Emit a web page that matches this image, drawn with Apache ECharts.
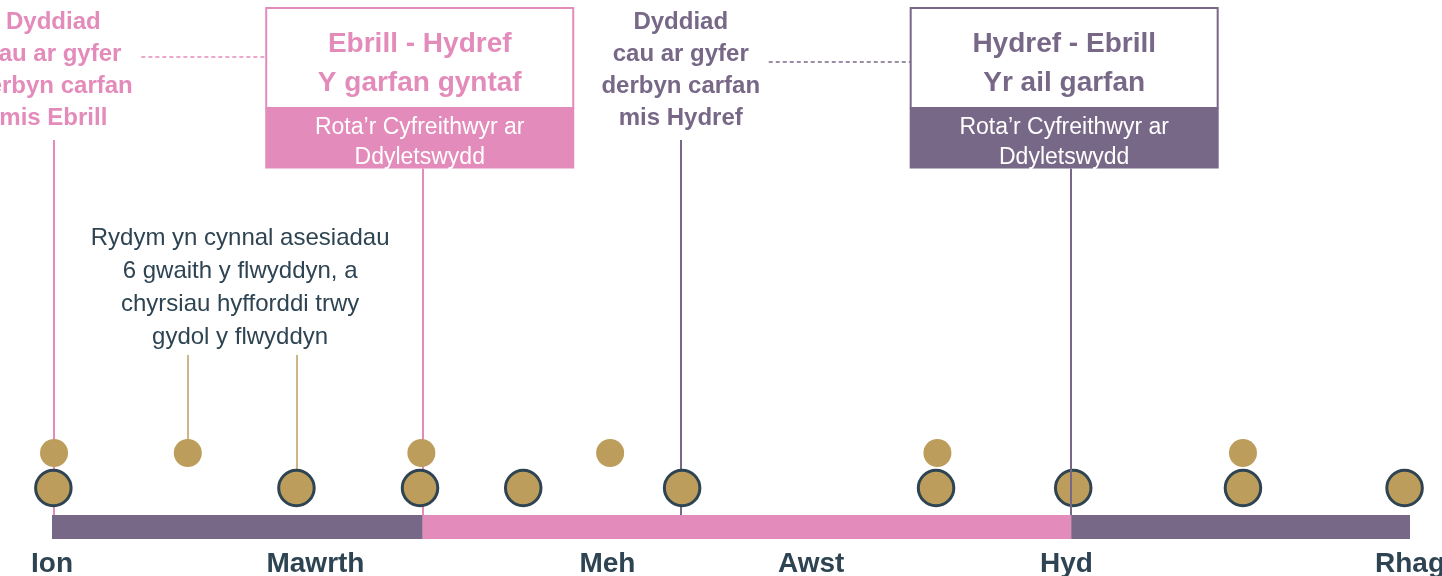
<!DOCTYPE html>
<html lang="cy">
<head>
<meta charset="UTF-8">
<title>Llinell amser carfanau</title>
<style>
  * { margin: 0; padding: 0; }
  #chart { width: 1442px; height: 576px; background: #fff; }
</style>
</head>
<body>
<div id="chart"></div>
<script src="https://cdn.jsdelivr.net/npm/echarts@6/dist/echarts.min.js"></script>
<script>
// echel amser: 0 = dechrau Ion, 100 = diwedd y flwyddyn
var monthLabels = ['Ion', 'Mawrth', 'Meh', 'Awst', 'Hyd', 'Rhag'];
var monthTicks = [0, 19.4, 40.9, 55.9, 74.7, 100];

// asesiadau (cylchoedd mawr) a chyrsiau hyfforddi (cylchoedd bach)
var assessmentDates = [0.1, 18, 27.1, 34.7, 46.4, 65.1, 75.2, 87.7, 99.6];
var courseDates = [0.15, 10, 27.2, 41.1, 65.2, 87.7];

// dyddiadau cau a dechrau'r ddwy garfan
var deadlineDates = [0.1, 46.3];
var cohortStarts = [27.3, 75.05];
var cohortTitles = ['Ebrill - Hydref\nY garfan gyntaf', 'Hydref - Ebrill\nYr ail garfan'];
var deadlineTexts = [
    'Dyddiad\ncau ar gyfer\nderbyn carfan\nmis Ebrill',
    'Dyddiad\ncau ar gyfer\nderbyn carfan\nmis Hydref'
];
var rotaText = 'Rota\u2019r Cyfreithwyr ar\nDdyletswydd';
var noteText = 'Rydym yn cynnal asesiadau\n6 gwaith y flwyddyn, a\nchyrsiau hyfforddi trwy\ngydol y flwyddyn';
var noteLinks = [10, 18];

var PINK = '#e38bba', PURPLE = '#776887', GOLD = '#bd9d5c', DARK = '#2e4452';
var FONT = '"Liberation Sans", Arial, sans-serif';
var cohortColors = [PINK, PURPLE];

// rhesi'r cynllun (yr echel y = rhes picsel)
var ROW_BAR = 527, ROW_BIG = 488, ROW_SMALL = 453;
var TEXT_BOTTOM = 140, LINK_TOP = 355, NOTE_MID = 288, DEADLINE_MID = 70;
var BOX_TOP = 8, BOX_MID = 108, BOX_BOTTOM = 168.5, BOX_W = 307;
var BOX_SHIFT = [-3, -7], LINK_ROWS = [57, 62];

var chart = echarts.init(document.getElementById('chart'));

var series = [];

// y bar rota
var edges = [0].concat(cohortStarts, [100]);
var segColors = [PURPLE, PINK, PURPLE];
for (var i = 0; i < segColors.length; i++) {
    series.push({
        type: 'line',
        silent: true,
        symbol: 'none',
        data: [[edges[i], ROW_BAR], [edges[i + 1], ROW_BAR]],
        lineStyle: { width: 24, color: segColors[i], cap: 'butt' },
        z: 1
    });
}

// llinellau fertigol
series.push({
    type: 'lines',
    coordinateSystem: 'cartesian2d',
    silent: true,
    z: 2,
    data: deadlineDates.map(function (d, i) {
        return { coords: [[d, TEXT_BOTTOM], [d, ROW_BAR - 12]], lineStyle: { color: cohortColors[i] } };
    }).concat([{ coords: [[cohortStarts[0], BOX_BOTTOM], [cohortStarts[0], ROW_BAR - 12]], lineStyle: { color: PINK } }])
      .concat(noteLinks.map(function (d) {
        var end = courseDates.indexOf(d) >= 0 ? ROW_SMALL : ROW_BIG;
        return { coords: [[d, LINK_TOP], [d, end]], lineStyle: { color: GOLD, width: 1.5 } };
    })),
    lineStyle: { width: 2, opacity: 1 }
});

series.push({
    type: 'scatter',
    silent: true,
    z: 3,
    symbolSize: 28,
    itemStyle: { color: GOLD, opacity: 1 },
    data: courseDates.map(function (d) { return [d, ROW_SMALL]; })
});

series.push({
    type: 'scatter',
    silent: true,
    z: 4,
    symbolSize: 35.5,
    itemStyle: { color: GOLD, borderColor: DARK, borderWidth: 3, opacity: 1 },
    data: assessmentDates.map(function (d) { return [d, ROW_BIG]; })
});

// llinell yr ail garfan, uwchben y cylch
series.push({
    type: 'lines',
    coordinateSystem: 'cartesian2d',
    silent: true,
    z: 5,
    data: [{ coords: [[cohortStarts[1], BOX_BOTTOM], [cohortStarts[1], ROW_BAR - 12]] }],
    lineStyle: { width: 2, color: PURPLE, opacity: 1 }
});

// blychau'r carfanau
series.push({
    type: 'custom',
    silent: true,
    z: 6,
    encode: { x: 0, y: 1 },
    data: cohortStarts.map(function (c) { return [c, BOX_TOP]; }),
    renderItem: function (params, api) {
        var i = params.dataIndex;
        var x = api.value(0);
        var top = api.coord([x, BOX_TOP]);
        var mid = api.coord([x, BOX_MID]);
        var bot = api.coord([x, BOX_BOTTOM]);
        var cx = top[0] + BOX_SHIFT[i];
        var x0 = cx - BOX_W / 2;
        var dl = api.coord([deadlineDates[i], LINK_ROWS[i]]);
        var color = cohortColors[i];
        return {
            type: 'group',
            children: [
                { type: 'line', shape: { x1: dl[0] + 88, y1: dl[1], x2: x0, y2: dl[1] },
                  style: { stroke: color, lineWidth: 1.5, lineDash: [4, 3] } },
                { type: 'rect', shape: { x: x0, y: top[1], width: BOX_W, height: mid[1] - top[1] },
                  style: { fill: '#fff', stroke: color, lineWidth: 2 } },
                { type: 'rect', shape: { x: x0 - 1, y: mid[1], width: BOX_W + 2, height: bot[1] - mid[1] },
                  style: { fill: color } },
                { type: 'text', style: { text: cohortTitles[i], x: cx, y: (top[1] + mid[1]) / 2 + 5.5,
                  align: 'center', verticalAlign: 'middle', font: 'bold 28px ' + FONT, lineHeight: 39, fill: color } },
                { type: 'text', style: { text: rotaText, x: cx, y: (mid[1] + bot[1]) / 2 + 4,
                  align: 'center', verticalAlign: 'middle', font: '23px ' + FONT, lineHeight: 30, fill: '#fff' } }
            ]
        };
    }
});

// testun y dyddiadau cau a'r nodyn
series.push({
    type: 'custom',
    silent: true,
    z: 6,
    encode: { x: 0, y: 1 },
    data: deadlineDates.map(function (d) { return [d, DEADLINE_MID]; })
        .concat([[(noteLinks[0] + noteLinks[1]) / 2, NOTE_MID]]),
    renderItem: function (params, api) {
        var i = params.dataIndex;
        var p = api.coord([api.value(0), api.value(1)]);
        var isNote = i >= deadlineTexts.length;
        return {
            type: 'text',
            style: {
                text: isNote ? noteText : deadlineTexts[i],
                x: p[0] + (isNote ? -2 : 0), y: p[1],
                align: 'center', verticalAlign: 'middle',
                font: (isNote ? '' : 'bold ') + '24px ' + FONT,
                lineHeight: isNote ? 33 : 32,
                fill: isNote ? DARK : cohortColors[i]
            }
        };
    }
});

chart.setOption({
    animation: false,
    backgroundColor: '#fff',
    grid: { left: 52, right: 32, top: 0, bottom: 36, outerBoundsMode: 'none', containLabel: false },
    xAxis: {
        type: 'value',
        min: 0,
        max: 100,
        axisLine: { show: false },
        axisTick: { show: false },
        splitLine: { show: false },
        axisLabel: {
            customValues: monthTicks,
            margin: 10,
            color: DARK,
            fontSize: 28,
            fontWeight: 'bold',
            fontFamily: FONT,
            formatter: function (v) { return monthLabels[monthTicks.indexOf(v)]; }
        }
    },
    yAxis: {
        type: 'value',
        min: 0,
        max: 540,
        inverse: true,
        show: false
    },
    series: series
});
</script>
</body>
</html>
